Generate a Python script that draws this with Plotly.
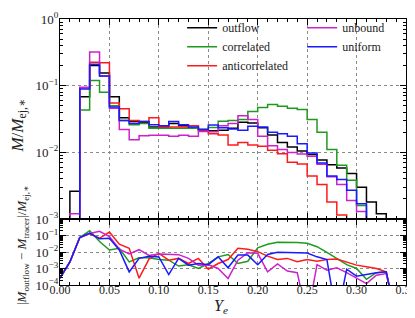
import plotly.graph_objects as go
from plotly.subplots import make_subplots

# Bin edges in Y_e
bin_edges = [0.00, 0.01, 0.02, 0.03, 0.04, 0.05, 0.06, 0.07, 0.08, 0.09,
             0.10, 0.11, 0.12, 0.13, 0.14, 0.15, 0.16, 0.17, 0.18, 0.19,
             0.20, 0.21, 0.22, 0.23, 0.24, 0.25, 0.26, 0.27, 0.28, 0.29,
             0.30, 0.31, 0.32, 0.33, 0.34, 0.35]

# Top panel: M/M_ej,* per bin (values below the axis are ~empty bins)
outflow = [1e-5, 2.6e-3, 0.068, 0.20, 0.155, 0.068, 0.033, 0.029, 0.028, 0.024,
           0.024, 0.027, 0.025, 0.023, 0.022, 0.021, 0.0214, 0.0229, 0.0282, 0.0275,
           0.0234, 0.0182, 0.0141, 0.0120, 0.0105, 0.0093, 0.0077, 0.0065, 0.0058, 0.0048,
           0.0030, 0.0018, 0.0012, 1e-5, 1e-5]
correlated = [1e-5, 1e-5, 0.043, 0.12, 0.08, 0.05, 0.030, 0.026, 0.027, 0.023,
              0.023, 0.023, 0.023, 0.023, 0.022, 0.0235, 0.0292, 0.030, 0.031, 0.041,
              0.047, 0.052, 0.049, 0.046, 0.044, 0.031, 0.020, 0.011, 0.0064, 0.0038,
              0.0016, 1e-5, 1e-5, 1e-5, 1e-5]
anticorrelated = [1e-5, 1e-5, 0.093, 0.225, 0.22, 0.055, 0.045, 0.030, 0.029, 0.033,
                  0.024, 0.024, 0.024, 0.025, 0.021, 0.019, 0.0182, 0.0129, 0.0141, 0.0129,
                  0.0123, 0.0107, 0.0095, 0.0071, 0.0067, 0.0044, 0.0033, 0.0018, 0.00115, 1e-5,
                  1e-5, 1e-5, 1e-5, 1e-5, 1e-5]
unbound = [1e-5, 1.2e-3, 0.095, 0.32, 0.14, 0.046, 0.022, 0.0155, 0.0178, 0.018,
           0.018, 0.0174, 0.018, 0.0175, 0.0205, 0.0204, 0.025, 0.027, 0.0355, 0.031,
           0.0174, 0.0126, 0.011, 0.0099, 0.0094, 0.0087, 0.0066, 0.0043, 0.0033, 0.0019,
           0.0013, 1e-5, 1e-5, 1e-5, 1e-5]
uniform = [1e-5, 1e-5, 0.089, 0.21, 0.14, 0.048, 0.030, 0.027, 0.029, 0.026,
           0.025, 0.029, 0.026, 0.024, 0.022, 0.0257, 0.0234, 0.0224, 0.0214, 0.0246,
           0.024, 0.020, 0.019, 0.0174, 0.0134, 0.0098, 0.0069, 0.0044, 0.0039, 0.0027,
           0.0017, 1e-5, 1e-5, 1e-5, 1e-5]

# Bottom panel: |M_outflow - M_tracer| / M_ej,* at each bin's left edge
diff_correlated = [2.6e-4, 2.5e-3, 0.076, 0.195, 0.043, 0.0132, 0.0166, 0.0025, 0.0045, 0.0045,
                   0.0035, 0.0032, 0.0014, 0.0017, 0.001, 0.002, 0.0051, 0.0071, 0.002, 0.00275,
                   0.018, 0.0295, 0.039, 0.039, 0.037, 0.034, 0.021, 0.0095, 0.0041, 0.0017,
                   0.001, 0.00022, 0.00056, 0.00063, 1e-6]
diff_anticorrelated = [2.6e-4, 2.5e-3, 0.076, 0.126, 0.068, 0.162, 0.0295, 0.0166, 0.00026, 0.0037,
                       0.0083, 0.0032, 0.0041, 0.002, 0.0041, 0.00091, 0.002, 0.0035, 0.0166, 0.0145,
                       0.0105, 0.0056, 0.0035, 0.0041, 0.0026, 0.0035, 0.0028, 0.0035, 0.0038, 0.0026,
                       0.0016, 0.00126, 0.001, 0.00063, 1e-6]
diff_unbound = [2.6e-4, 2.5e-3, 0.076, 0.132, 0.178, 0.087, 0.0151, 0.0076, 0.0138, 0.0062,
                0.0076, 0.0069, 0.0069, 0.0041, 0.0016, 0.0017, 0.001, 0.00025, 0.0032, 0.0091,
                0.0083, 0.00063, 0.0019, 0.0007, 0.00056, 1e-6, 0.0017, 0.00079, 0.0011, 0.00056,
                0.00025, 0.00012, 0.00039, 0.00049, 1e-6]
diff_uniform = [2.6e-4, 2.5e-3, 0.076, 0.141, 0.063, 0.068, 0.0132, 0.00062, 0.0041, 0.0055,
                0.005, 0.00043, 0.0041, 0.0016, 0.002, 0.0017, 0.0051, 0.0011, 0.0065, 0.0065,
                0.0017, 0.0071, 0.0095, 0.0095, 0.0091, 0.0087, 0.0051, 0.0035, 1e-6, 0.00091,
                0.00034, 0.00043, 0.00056, 0.00063, 1e-6]

x_tick_vals = [0.00, 0.05, 0.10, 0.15, 0.20, 0.25, 0.30, 0.35]
x_tick_text = ["0.00", "0.05", "0.10", "0.15", "0.20", "0.25", "0.30", "0.35"]
x_minor_vals = bin_edges
top_tick_vals = [1e-3, 1e-2, 1e-1, 1e0]
top_tick_text = ["10<sup>−3</sup>", "10<sup>−2</sup>", "10<sup>−1</sup>", "10<sup>0</sup>"]
bot_tick_vals = [1e-4, 1e-3, 1e-2, 1e-1]
bot_tick_text = ["10<sup>−4</sup>", "10<sup>−3</sup>", "10<sup>−2</sup>", "10<sup>−1</sup>"]
log_minor_vals = [m * 10.0 ** e for e in (-4, -3, -2, -1) for m in (2, 3, 4, 5, 6, 7, 8, 9)]

series = [
    ("outflow", outflow, None, "black"),
    ("correlated", correlated, diff_correlated, "#1f9a1f"),
    ("anticorrelated", anticorrelated, diff_anticorrelated, "#ff1a1a"),
    ("unbound", unbound, diff_unbound, "#cc22cc"),
    ("uniform", uniform, diff_uniform, "#1a1aff"),
]
legend_rank = {"outflow": 1, "unbound": 2, "correlated": 3, "uniform": 4, "anticorrelated": 5}

fig = make_subplots(rows=2, cols=1, shared_xaxes=True, vertical_spacing=0,
                    row_heights=[200, 66])

for name, vals, diff, color in series:
    fig.add_trace(go.Scatter(x=bin_edges, y=vals + [vals[-1]], mode="lines",
                             line=dict(color=color, width=1.5, shape="hv"),
                             name=name, legendrank=legend_rank[name]), row=1, col=1)
for name, vals, diff, color in series:
    if diff is None:
        continue
    fig.add_trace(go.Scatter(x=bin_edges[:-1], y=diff, mode="lines",
                             line=dict(color=color, width=1.5),
                             name=name, showlegend=False), row=2, col=1)

font_family = "Liberation Serif, DejaVu Serif, serif"
axis_common = dict(showline=True, linecolor="black", linewidth=1.3, mirror="allticks",
                   ticks="inside", ticklen=6, tickwidth=1, tickcolor="black",
                   showgrid=True, gridcolor="#8a8a8a", griddash="dot", gridwidth=1,
                   zeroline=False)

for r in (1, 2):
    fig.update_xaxes(range=[0, 0.35], tickvals=x_tick_vals, ticktext=x_tick_text,
                     minor=dict(tickvals=x_minor_vals, ticks="inside", ticklen=3,
                                tickcolor="black", showgrid=False),
                     tickfont=dict(family=font_family, size=12, color="#222"),
                     ticklabelstandoff=-7, ticklabeloverflow="allow",
                     **axis_common, row=r, col=1)
fig.update_xaxes(showticklabels=False, row=1, col=1)

fig.update_yaxes(type="log", range=[-3, 0], tickvals=top_tick_vals, ticktext=top_tick_text,
                 minor=dict(tickvals=log_minor_vals, ticks="inside", ticklen=3,
                            tickcolor="black", showgrid=False),
                 tickfont=dict(family=font_family, size=13, color="#222"),
                 ticklabelstandoff=-2,
                 **axis_common, row=1, col=1)
fig.update_yaxes(type="log", range=[-4, 0], tickvals=bot_tick_vals, ticktext=bot_tick_text,
                 minor=dict(tickvals=log_minor_vals, ticks="inside", ticklen=3,
                            tickcolor="black", showgrid=False),
                 tickfont=dict(family=font_family, size=13, color="#222"),
                 ticklabelstandoff=-2,
                 **axis_common, row=2, col=1)

fig.add_annotation(text="<i>M</i>/<i>M</i><sub>ej,∗</sub>", xref="paper", yref="paper",
                   x=-0.118, y=0.60, xanchor="center", yanchor="middle",
                   textangle=-90, showarrow=False,
                   font=dict(family=font_family, size=17, color="#222"))
fig.add_annotation(text="|<i>M</i><sub>outflow</sub> − <i>M</i><sub>tracer</sub>|/<i>M</i><sub>ej,∗</sub>",
                   xref="paper", yref="paper", x=-0.11, y=0.15, xanchor="center", yanchor="middle",
                   textangle=-90, showarrow=False,
                   font=dict(family=font_family, size=13, color="#222"))
fig.add_annotation(text="<i>Y</i><sub><i>e</i></sub>", xref="paper", yref="paper",
                   x=0.465, y=-0.08, xanchor="center", yanchor="middle", showarrow=False,
                   font=dict(family=font_family, size=16, color="#222"))

fig.update_layout(
    width=415, height=318,
    margin=dict(l=52, r=17, t=11, b=41, autoexpand=False),
    paper_bgcolor="white", plot_bgcolor="white",
    showlegend=True,
    legend=dict(orientation="h", x=0.353, y=1.022, xanchor="left", yanchor="top",
                entrywidth=75, entrywidthmode="pixels", bgcolor="rgba(0,0,0,0)",
                font=dict(family=font_family, size=12, color="#222"),
                tracegroupgap=0, itemwidth=30),
)

fig.write_html("out.html")
